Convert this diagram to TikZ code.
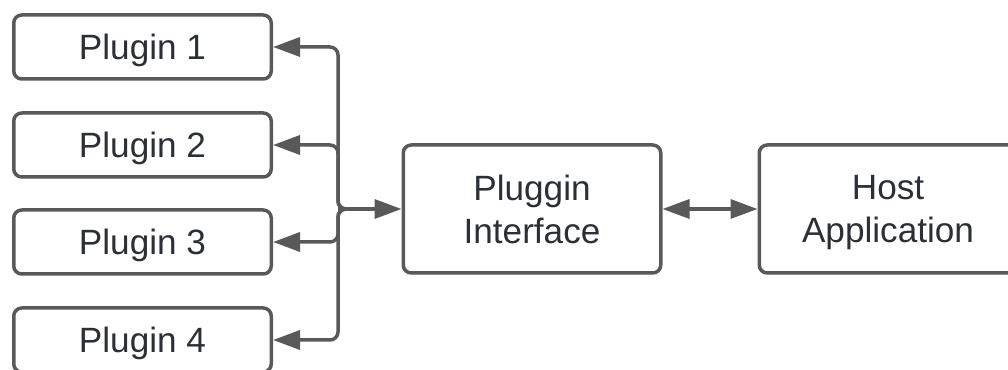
\documentclass[tikz,border=0pt]{standalone}
\usepackage{fontspec}
\setmainfont{Liberation Sans}
\usetikzlibrary{arrows.meta}
\definecolor{linegray}{HTML}{595959}
\definecolor{textdark}{HTML}{2B2F36}
\tikzset{
	box/.style={draw=linegray, line width=0.07cm, rounded corners=0.16cm,
		minimum width=5.15cm, minimum height=1.28cm, text=textdark, text depth=0pt,
		font=\fontsize{20}{24.5}\selectfont, align=center},
	link/.style={draw=linegray, line width=0.07cm},
	>={Triangle[length=0.54cm, width=0.38cm]}
}
\begin{document}
\begin{tikzpicture}
		\useasboundingbox (0,0) rectangle (20.16,7.4);
		\node[box] (plugin1) at (2.85,6.46) {Plugin 1};
		\node[box] (plugin2) at (2.85,4.5) {Plugin 2};
		\node[box] (plugin3) at (2.85,2.56) {Plugin 3};
		\node[box] (plugin4) at (2.85,0.6) {Plugin 4};
		\node[box, minimum height=2.56cm] (interface) at (10.64,3.22) {Pluggin\\Interface};
		\node[box, minimum height=2.56cm] (host) at (17.76,3.22) {Host\\Application};
		\coordinate (hub) at (6.76,3.22);
		\draw[link, ->] (hub) -- (interface.west);
		\foreach \p in {1,...,4}
			\draw[link, ->, rounded corners=0.16cm] ([xshift=0.3cm]hub) -- (hub) |- (plugin\p.east);
		\draw[link, <->] (interface.east) -- (host.west);
	\end{tikzpicture}
\end{document}
